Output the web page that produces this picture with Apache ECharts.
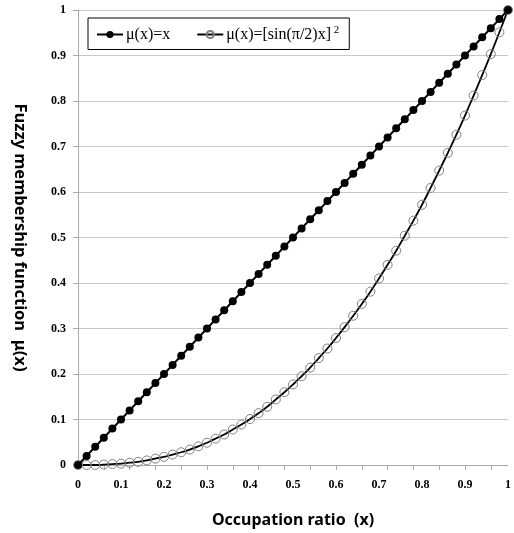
<!DOCTYPE html>
<html>
<head>
<meta charset="utf-8">
<script src="https://cdn.jsdelivr.net/npm/echarts@6/dist/echarts.min.js"></script>
<style>
html,body{margin:0;padding:0;background:#fff;}
#chart{width:514px;height:533px;}
</style>
</head>
<body>
<div id="chart"></div>
<script>
var categories = [0,0.02,0.04,0.06,0.08,0.1,0.12,0.14,0.16,0.18,0.2,0.22,0.24,0.26,0.28,0.3,0.32,0.34,0.36,0.38,0.4,0.42,0.44,0.46,0.48,0.5,0.52,0.54,0.56,0.58,0.6,0.62,0.64,0.66,0.68,0.7,0.72,0.74,0.76,0.78,0.8,0.82,0.84,0.86,0.88,0.9,0.92,0.94,0.96,0.98,1];
var linearValues = [0,0.02,0.04,0.06,0.08,0.1,0.12,0.14,0.16,0.18,0.2,0.22,0.24,0.26,0.28,0.3,0.32,0.34,0.36,0.38,0.4,0.42,0.44,0.46,0.48,0.5,0.52,0.54,0.56,0.58,0.6,0.62,0.64,0.66,0.68,0.7,0.72,0.74,0.76,0.78,0.8,0.82,0.84,0.86,0.88,0.9,0.92,0.94,0.96,0.98,1];
var curveValues = [0,0.000,0.000,0.001,0.002,0.003,0.005,0.007,0.010,0.014,0.018,0.023,0.028,0.034,0.041,0.049,0.058,0.067,0.078,0.089,0.101,0.114,0.128,0.144,0.160,0.177,0.195,0.214,0.235,0.256,0.279,0.303,0.328,0.354,0.381,0.410,0.440,0.471,0.504,0.537,0.572,0.609,0.647,0.686,0.726,0.768,0.812,0.857,0.903,0.951,1];
var yTicks = [0,0.1,0.2,0.3,0.4,0.5,0.6,0.7,0.8,0.9,1];
var seriesNames = ['μ(x)=x','μ(x)=[sin(π/2)x]'];
var xTitle = 'Occupation ratio  (x)';
var yTitle = 'Fuzzy membership function  μ(x)';

var chart = echarts.init(document.getElementById('chart'), null, {renderer:'canvas'});
var tickFont = {fontFamily:'Liberation Serif', fontWeight:'bold', fontSize:12, color:'#000'};
chart.setOption({
  animation:false,
  backgroundColor:'#fff',
  grid:{left:78, right:6, top:10, bottom:67},
  legend:{
    left:88, top:18,
    padding:[7,10,7,8],
    itemGap:26,
    itemWidth:26, itemHeight:9,
    backgroundColor:'#fff',
    borderColor:'#000', borderWidth:1, borderRadius:0,
    textStyle:{fontFamily:'Liberation Serif', fontSize:16, color:'#000', padding:[0,0,0,-2],
      rich:{sup:{fontFamily:'Liberation Serif', fontSize:11, color:'#000', verticalAlign:'top', padding:[0,0,8,0]}}},
    formatter:function(n){ return n===seriesNames[1] ? n+'{sup| 2}' : n; },
    data:seriesNames
  },
  xAxis:{
    type:'category',
    data:categories.map(String),
    boundaryGap:false,
    name:xTitle, nameLocation:'middle', nameGap:47,
    nameTextStyle:{fontFamily:'Noto Sans', fontWeight:'bold', fontSize:16, color:'#000'},
    axisLine:{lineStyle:{color:'#aaa', width:1}},
    axisTick:{show:true, interval:2, length:5, lineStyle:{color:'#aaa'}},
    axisLabel:Object.assign({interval:4, margin:14, formatter:function(v){return String(+v);}}, tickFont),
    splitLine:{show:false}
  },
  yAxis:{
    type:'value', min:0, max:1, interval:0.1,
    name:yTitle, nameLocation:'middle', nameGap:50, nameRotate:-90,
    nameTextStyle:{fontFamily:'Noto Sans', fontWeight:'bold', fontSize:16.5, color:'#000'},
    axisLine:{show:true, lineStyle:{color:'#aaa', width:1}},
    axisTick:{show:true, length:5, lineStyle:{color:'#aaa'}},
    axisLabel:Object.assign({margin:12, formatter:function(v){return String(+v.toFixed(1));}}, tickFont),
    splitLine:{show:true, lineStyle:{color:'#c8c8c8', width:1}}
  },
  series:[
    {
      name:seriesNames[0], type:'line', data:linearValues,
      symbol:'circle', symbolSize:8, showSymbol:true, showAllSymbol:true,
      lineStyle:{color:'#000', width:2},
      itemStyle:{color:'#000', borderColor:'#000', borderWidth:0},
      z:3
    },
    {
      name:seriesNames[1], type:'line', data:curveValues, smooth:true,
      symbol:'circle', symbolSize:9, showSymbol:true, showAllSymbol:true,
      lineStyle:{color:'#000', width:1.8},
      itemStyle:{color:'rgba(255,255,255,0)', borderColor:'#808080', borderWidth:1},
      z:2
    }
  ]
});
</script>
</body>
</html>
